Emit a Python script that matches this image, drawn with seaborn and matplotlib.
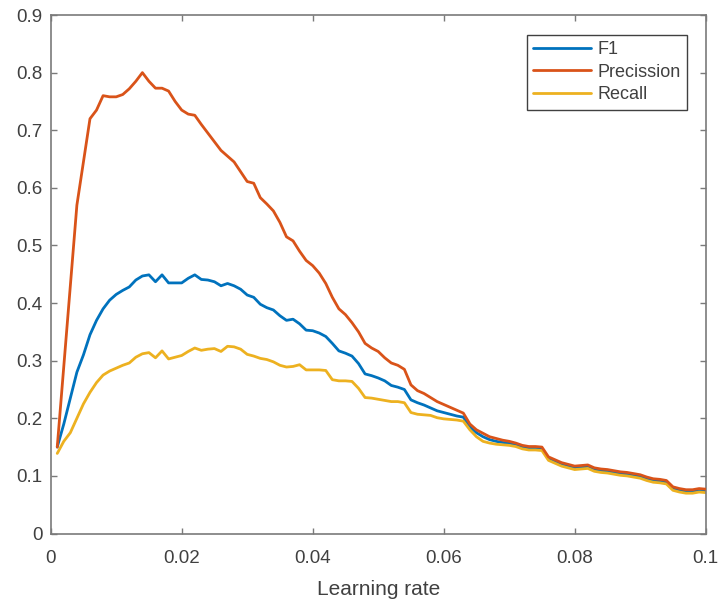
import numpy as np
import pandas as pd
import matplotlib
matplotlib.use("Agg")
import matplotlib.pyplot as plt
import seaborn as sns

# learning rate grid, 0.001 .. 0.100
learning_rate = np.arange(1, 101) / 1000

f1 = [
    0.150, 0.190, 0.235, 0.280, 0.310, 0.345, 0.370, 0.390, 0.405, 0.415,
    0.422, 0.428, 0.440, 0.447, 0.449, 0.437, 0.449, 0.435, 0.435, 0.435,
    0.443, 0.449, 0.441, 0.440, 0.437, 0.430, 0.434, 0.430, 0.424, 0.414,
    0.410, 0.398, 0.392, 0.388, 0.378, 0.370, 0.372, 0.364, 0.353, 0.352,
    0.348, 0.342, 0.330, 0.317, 0.313, 0.308, 0.295, 0.277, 0.274, 0.270,
    0.265, 0.257, 0.254, 0.250, 0.232, 0.227, 0.223, 0.218, 0.213, 0.210,
    0.207, 0.204, 0.202, 0.185, 0.175, 0.168, 0.163, 0.160, 0.158, 0.157,
    0.154, 0.150, 0.148, 0.148, 0.147, 0.130, 0.125, 0.120, 0.117, 0.114,
    0.115, 0.116, 0.111, 0.109, 0.108, 0.106, 0.104, 0.103, 0.101, 0.099,
    0.095, 0.092, 0.091, 0.089, 0.078, 0.075, 0.073, 0.073, 0.075, 0.074,
]
precission = [
    0.150, 0.290, 0.430, 0.570, 0.645, 0.720, 0.735, 0.760, 0.758, 0.758,
    0.762, 0.772, 0.785, 0.800, 0.785, 0.773, 0.773, 0.768, 0.750, 0.735,
    0.728, 0.726, 0.710, 0.695, 0.680, 0.665, 0.655, 0.645, 0.628, 0.611,
    0.608, 0.583, 0.572, 0.560, 0.540, 0.515, 0.508, 0.490, 0.474, 0.465,
    0.452, 0.434, 0.410, 0.390, 0.380, 0.366, 0.350, 0.330, 0.322, 0.316,
    0.305, 0.296, 0.292, 0.285, 0.258, 0.248, 0.243, 0.236, 0.229, 0.224,
    0.219, 0.214, 0.209, 0.190, 0.180, 0.174, 0.168, 0.165, 0.162, 0.160,
    0.157, 0.153, 0.151, 0.151, 0.150, 0.133, 0.128, 0.123, 0.120, 0.117,
    0.118, 0.119, 0.114, 0.112, 0.111, 0.109, 0.107, 0.106, 0.104, 0.102,
    0.098, 0.095, 0.094, 0.092, 0.081, 0.078, 0.076, 0.076, 0.078, 0.077,
]
recall = [
    0.139, 0.160, 0.175, 0.200, 0.225, 0.245, 0.262, 0.275, 0.282, 0.287,
    0.292, 0.296, 0.306, 0.312, 0.314, 0.305, 0.317, 0.303, 0.306, 0.309,
    0.316, 0.322, 0.318, 0.320, 0.321, 0.316, 0.325, 0.324, 0.320, 0.311,
    0.308, 0.304, 0.302, 0.298, 0.292, 0.289, 0.290, 0.293, 0.284, 0.284,
    0.284, 0.283, 0.267, 0.265, 0.265, 0.264, 0.252, 0.236, 0.235, 0.233,
    0.231, 0.229, 0.229, 0.227, 0.210, 0.207, 0.206, 0.205, 0.201, 0.199,
    0.198, 0.197, 0.195, 0.180, 0.168, 0.160, 0.157, 0.155, 0.154, 0.153,
    0.151, 0.147, 0.145, 0.145, 0.144, 0.127, 0.122, 0.117, 0.114, 0.111,
    0.112, 0.113, 0.108, 0.106, 0.105, 0.103, 0.101, 0.100, 0.098, 0.096,
    0.092, 0.089, 0.088, 0.086, 0.075, 0.072, 0.070, 0.070, 0.072, 0.071,
]

series_names = ["F1", "Precission", "Recall"]
palette = {"F1": "#0072BD", "Precission": "#D95319", "Recall": "#EDB120"}

df = pd.DataFrame({"lr": learning_rate, "F1": f1, "Precission": precission, "Recall": recall})
long_df = df.melt(id_vars="lr", var_name="metric", value_name="score")

sns.set_theme(style="white")
plt.rcParams["font.family"] = ["Liberation Sans", "DejaVu Sans"]

fig = plt.figure(figsize=(7.22, 6.01), dpi=100)
ax = fig.add_axes([0.0702, 0.1123, 0.9072, 0.8627])

sns.lineplot(data=long_df, x="lr", y="score", hue="metric", hue_order=series_names,
             palette=palette, linewidth=2.0, ax=ax)
# precision drawn on top in the overlapping tail
for line in ax.get_lines():
    if line.get_color().lower() == palette["Precission"].lower():
        line.set_zorder(4)

ax.set_xlim(0, 0.1)
ax.set_ylim(0, 0.9)
ax.set_xticks([0, 0.02, 0.04, 0.06, 0.08, 0.1])
ax.set_xticklabels(["0", "0.02", "0.04", "0.06", "0.08", "0.1"])
ax.set_yticks(np.arange(0, 10) / 10)
ax.set_yticklabels(["0", "0.1", "0.2", "0.3", "0.4", "0.5", "0.6", "0.7", "0.8", "0.9"])

for side in ax.spines.values():
    side.set_color("#7a7a7a")
    side.set_linewidth(1.2)
ax.tick_params(direction="in", length=4, width=1, colors="#7a7a7a",
               labelcolor="#404040", labelsize=13.5, top=True, right=True,
               bottom=True, left=True)
ax.tick_params(axis="x", pad=12)
ax.tick_params(axis="y", pad=6)

ax.set_xlabel("Learning rate", fontsize=15, color="#404040", labelpad=9)
ax.set_ylabel("")

leg = ax.legend(loc="upper right", bbox_to_anchor=(0.9714, 0.9614), borderaxespad=0,
                fontsize=13, handlelength=3.2, handletextpad=0.35, fancybox=False,
                framealpha=1, edgecolor="#404040", labelspacing=0.3, borderpad=0.35)
leg.get_frame().set_linewidth(1.0)
for txt in leg.get_texts():
    txt.set_color("#404040")

fig.savefig("out.png", dpi=100)
